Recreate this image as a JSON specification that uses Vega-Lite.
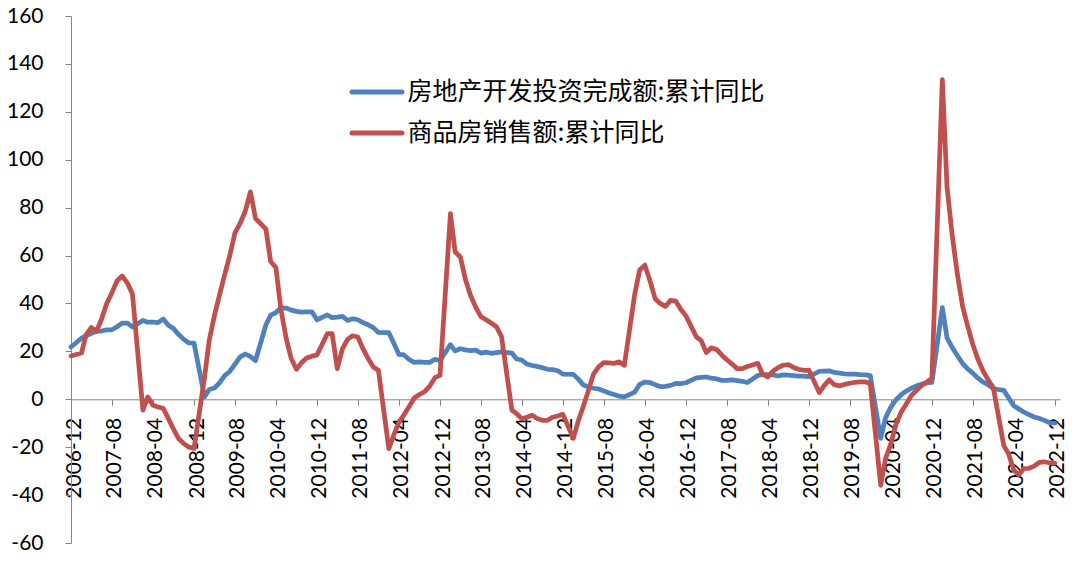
{
  "$schema": "https://vega.github.io/schema/vega-lite/v6.json",
  "width": 989,
  "height": 527,
  "autosize": {"type": "none"},
  "padding": {"left": 71, "top": 16, "right": 20, "bottom": 26},
  "background": "white",
  "data": {"values": [
    {"date":"2006-12","inv":21.8,"sales":18.1},
    {"date":"2007-02","inv":25.5,"sales":19.3},
    {"date":"2007-03","inv":26.5,"sales":27},
    {"date":"2007-04","inv":27.5,"sales":30},
    {"date":"2007-05","inv":28.5,"sales":28.3},
    {"date":"2007-06","inv":28.5,"sales":33.5},
    {"date":"2007-07","inv":29,"sales":40},
    {"date":"2007-08","inv":29,"sales":44.5},
    {"date":"2007-09","inv":30.3,"sales":49.5},
    {"date":"2007-10","inv":31.8,"sales":51.5},
    {"date":"2007-11","inv":31.8,"sales":48.5},
    {"date":"2007-12","inv":30.2,"sales":44},
    {"date":"2008-02","inv":32.9,"sales":-4.5},
    {"date":"2008-03","inv":32.2,"sales":1},
    {"date":"2008-04","inv":32.2,"sales":-2.5},
    {"date":"2008-05","inv":32,"sales":-3.2},
    {"date":"2008-06","inv":33.5,"sales":-3.8},
    {"date":"2008-07","inv":30.9,"sales":-8},
    {"date":"2008-08","inv":29.5,"sales":-12.5},
    {"date":"2008-09","inv":27,"sales":-16.5},
    {"date":"2008-10","inv":25,"sales":-18.5},
    {"date":"2008-11","inv":23.5,"sales":-20},
    {"date":"2008-12","inv":23.4,"sales":-20.5},
    {"date":"2009-02","inv":1,"sales":9},
    {"date":"2009-03","inv":4.1,"sales":24.5},
    {"date":"2009-04","inv":4.7,"sales":35},
    {"date":"2009-05","inv":6.8,"sales":43.5},
    {"date":"2009-06","inv":9.9,"sales":52},
    {"date":"2009-07","inv":11.6,"sales":60},
    {"date":"2009-08","inv":14.7,"sales":69.5},
    {"date":"2009-09","inv":17.7,"sales":73.5},
    {"date":"2009-10","inv":18.9,"sales":78.5},
    {"date":"2009-11","inv":17.8,"sales":86.6},
    {"date":"2009-12","inv":16.1,"sales":75.5},
    {"date":"2010-02","inv":31.1,"sales":71},
    {"date":"2010-03","inv":35.1,"sales":57.5},
    {"date":"2010-04","inv":36.2,"sales":55},
    {"date":"2010-05","inv":38.2,"sales":37.5},
    {"date":"2010-06","inv":38.1,"sales":25.5},
    {"date":"2010-07","inv":37.2,"sales":17},
    {"date":"2010-08","inv":36.7,"sales":12.5},
    {"date":"2010-09","inv":36.4,"sales":15.3},
    {"date":"2010-10","inv":36.5,"sales":17.2},
    {"date":"2010-11","inv":36.5,"sales":18},
    {"date":"2010-12","inv":33.2,"sales":18.5},
    {"date":"2011-02","inv":35.2,"sales":27.4},
    {"date":"2011-03","inv":34.1,"sales":27.4},
    {"date":"2011-04","inv":34.3,"sales":12.8},
    {"date":"2011-05","inv":34.6,"sales":21},
    {"date":"2011-06","inv":32.9,"sales":25},
    {"date":"2011-07","inv":33.6,"sales":26.5},
    {"date":"2011-08","inv":33.2,"sales":26},
    {"date":"2011-09","inv":32.0,"sales":21},
    {"date":"2011-10","inv":31.1,"sales":17},
    {"date":"2011-11","inv":29.9,"sales":13.5},
    {"date":"2011-12","inv":27.9,"sales":12.1},
    {"date":"2012-02","inv":27.8,"sales":-20.6},
    {"date":"2012-03","inv":23.5,"sales":-15},
    {"date":"2012-04","inv":18.7,"sales":-9.5},
    {"date":"2012-05","inv":18.5,"sales":-6.5},
    {"date":"2012-06","inv":16.6,"sales":-3},
    {"date":"2012-07","inv":15.4,"sales":0.5},
    {"date":"2012-08","inv":15.6,"sales":2},
    {"date":"2012-09","inv":15.4,"sales":3.2},
    {"date":"2012-10","inv":15.4,"sales":5.5},
    {"date":"2012-11","inv":16.7,"sales":9},
    {"date":"2012-12","inv":16.2,"sales":10},
    {"date":"2013-02","inv":22.8,"sales":77.5},
    {"date":"2013-03","inv":20.2,"sales":61.5},
    {"date":"2013-04","inv":21.1,"sales":59.4},
    {"date":"2013-05","inv":20.6,"sales":50},
    {"date":"2013-06","inv":20.3,"sales":43.2},
    {"date":"2013-07","inv":20.5,"sales":38.5},
    {"date":"2013-08","inv":19.3,"sales":34.5},
    {"date":"2013-09","inv":19.7,"sales":33.2},
    {"date":"2013-10","inv":19.2,"sales":31.8},
    {"date":"2013-11","inv":19.5,"sales":30.3},
    {"date":"2013-12","inv":19.8,"sales":26.3},
    {"date":"2014-02","inv":19.3,"sales":-4.5},
    {"date":"2014-03","inv":16.8,"sales":-6},
    {"date":"2014-04","inv":16.4,"sales":-8.1},
    {"date":"2014-05","inv":14.7,"sales":-7.5},
    {"date":"2014-06","inv":14.1,"sales":-6.7},
    {"date":"2014-07","inv":13.7,"sales":-8},
    {"date":"2014-08","inv":13.2,"sales":-8.8},
    {"date":"2014-09","inv":12.5,"sales":-8.8},
    {"date":"2014-10","inv":12.4,"sales":-7.5},
    {"date":"2014-11","inv":11.9,"sales":-7},
    {"date":"2014-12","inv":10.5,"sales":-6.3},
    {"date":"2015-02","inv":10.4,"sales":-16.3},
    {"date":"2015-03","inv":8.5,"sales":-9.3},
    {"date":"2015-04","inv":6.0,"sales":-3},
    {"date":"2015-05","inv":5.1,"sales":3.5},
    {"date":"2015-06","inv":4.6,"sales":10.5},
    {"date":"2015-07","inv":4.3,"sales":13.5},
    {"date":"2015-08","inv":3.5,"sales":15.3},
    {"date":"2015-09","inv":2.6,"sales":15.2},
    {"date":"2015-10","inv":2.0,"sales":15},
    {"date":"2015-11","inv":1.3,"sales":15.6},
    {"date":"2015-12","inv":1.0,"sales":14.2},
    {"date":"2016-02","inv":3.0,"sales":44},
    {"date":"2016-03","inv":6.2,"sales":54},
    {"date":"2016-04","inv":7.2,"sales":56},
    {"date":"2016-05","inv":7.0,"sales":49.5},
    {"date":"2016-06","inv":6.1,"sales":42},
    {"date":"2016-07","inv":5.3,"sales":40},
    {"date":"2016-08","inv":5.4,"sales":38.8},
    {"date":"2016-09","inv":5.8,"sales":41.3},
    {"date":"2016-10","inv":6.6,"sales":41},
    {"date":"2016-11","inv":6.5,"sales":37.5},
    {"date":"2016-12","inv":6.9,"sales":34.8},
    {"date":"2017-02","inv":8.9,"sales":26},
    {"date":"2017-03","inv":9.1,"sales":24.6},
    {"date":"2017-04","inv":9.3,"sales":19.5},
    {"date":"2017-05","inv":8.8,"sales":21.5},
    {"date":"2017-06","inv":8.5,"sales":20.8},
    {"date":"2017-07","inv":7.9,"sales":18.5},
    {"date":"2017-08","inv":7.9,"sales":16.5},
    {"date":"2017-09","inv":8.1,"sales":14.7},
    {"date":"2017-10","inv":7.8,"sales":12.8},
    {"date":"2017-11","inv":7.5,"sales":12.8},
    {"date":"2017-12","inv":7.0,"sales":13.7},
    {"date":"2018-02","inv":9.9,"sales":15},
    {"date":"2018-03","inv":10.4,"sales":10.5},
    {"date":"2018-04","inv":10.3,"sales":9.3},
    {"date":"2018-05","inv":10.2,"sales":11.7},
    {"date":"2018-06","inv":9.7,"sales":13.2},
    {"date":"2018-07","inv":10.2,"sales":14.2},
    {"date":"2018-08","inv":10.1,"sales":14.5},
    {"date":"2018-09","inv":9.9,"sales":13.3},
    {"date":"2018-10","inv":9.7,"sales":12.5},
    {"date":"2018-11","inv":9.7,"sales":12.1},
    {"date":"2018-12","inv":9.5,"sales":12.2},
    {"date":"2019-02","inv":11.6,"sales":2.8},
    {"date":"2019-03","inv":11.8,"sales":5.6},
    {"date":"2019-04","inv":11.9,"sales":8.1},
    {"date":"2019-05","inv":11.2,"sales":6.1},
    {"date":"2019-06","inv":10.9,"sales":5.6},
    {"date":"2019-07","inv":10.6,"sales":6.2},
    {"date":"2019-08","inv":10.5,"sales":6.7},
    {"date":"2019-09","inv":10.5,"sales":7.1},
    {"date":"2019-10","inv":10.3,"sales":7.3},
    {"date":"2019-11","inv":10.2,"sales":7.3},
    {"date":"2019-12","inv":9.9,"sales":6.5},
    {"date":"2020-02","inv":-16.3,"sales":-35.9},
    {"date":"2020-03","inv":-7.7,"sales":-24.7},
    {"date":"2020-04","inv":-3.3,"sales":-18.6},
    {"date":"2020-05","inv":-0.3,"sales":-10.6},
    {"date":"2020-06","inv":1.9,"sales":-5.4},
    {"date":"2020-07","inv":3.4,"sales":-2.1},
    {"date":"2020-08","inv":4.6,"sales":1.6},
    {"date":"2020-09","inv":5.6,"sales":3.7},
    {"date":"2020-10","inv":6.3,"sales":5.8},
    {"date":"2020-11","inv":6.8,"sales":7.2},
    {"date":"2020-12","inv":7.0,"sales":8.7},
    {"date":"2021-02","inv":38.3,"sales":133.4},
    {"date":"2021-03","inv":25.6,"sales":88.5},
    {"date":"2021-04","inv":21.6,"sales":68.2},
    {"date":"2021-05","inv":18.3,"sales":52.4},
    {"date":"2021-06","inv":15.0,"sales":38.9},
    {"date":"2021-07","inv":12.7,"sales":30.7},
    {"date":"2021-08","inv":10.9,"sales":22.9},
    {"date":"2021-09","inv":8.8,"sales":16.6},
    {"date":"2021-10","inv":7.2,"sales":11.8},
    {"date":"2021-11","inv":6.0,"sales":8.0},
    {"date":"2021-12","inv":4.4,"sales":4.8},
    {"date":"2022-02","inv":3.7,"sales":-19.3},
    {"date":"2022-03","inv":0.7,"sales":-22.7},
    {"date":"2022-04","inv":-2.7,"sales":-29.5},
    {"date":"2022-05","inv":-4.0,"sales":-31.5},
    {"date":"2022-06","inv":-5.4,"sales":-28.9},
    {"date":"2022-07","inv":-6.4,"sales":-28.8},
    {"date":"2022-08","inv":-7.4,"sales":-27.9},
    {"date":"2022-09","inv":-8.0,"sales":-26.3},
    {"date":"2022-10","inv":-8.8,"sales":-26.1},
    {"date":"2022-11","inv":-9.8,"sales":-26.6},
    {"date":"2022-12","inv":-10.0,"sales":-26.7}
  ]},
  "transform": [{"fold": ["inv", "sales"], "as": ["series", "value"]}],
  "mark": {"type": "line", "strokeWidth": 4.75, "strokeJoin": "round", "strokeCap": "round"},
  "encoding": {
    "x": {
      "field": "date",
      "type": "temporal",
      "scale": {
        "type": "utc",
        "nice": false,
        "domain": [
          {"year": 2006, "month": 12, "date": 1, "utc": true},
          {"year": 2023, "month": 1, "date": 1, "utc": true}
        ]
      },
      "axis": {
        "title": null,
        "grid": false,
        "format": "%Y-%m",
        "values": [
          {"year": 2006, "month": 12, "date": 1, "utc": true},
          {"year": 2007, "month": 8, "date": 1, "utc": true},
          {"year": 2008, "month": 4, "date": 1, "utc": true},
          {"year": 2008, "month": 12, "date": 1, "utc": true},
          {"year": 2009, "month": 8, "date": 1, "utc": true},
          {"year": 2010, "month": 4, "date": 1, "utc": true},
          {"year": 2010, "month": 12, "date": 1, "utc": true},
          {"year": 2011, "month": 8, "date": 1, "utc": true},
          {"year": 2012, "month": 4, "date": 1, "utc": true},
          {"year": 2012, "month": 12, "date": 1, "utc": true},
          {"year": 2013, "month": 8, "date": 1, "utc": true},
          {"year": 2014, "month": 4, "date": 1, "utc": true},
          {"year": 2014, "month": 12, "date": 1, "utc": true},
          {"year": 2015, "month": 8, "date": 1, "utc": true},
          {"year": 2016, "month": 4, "date": 1, "utc": true},
          {"year": 2016, "month": 12, "date": 1, "utc": true},
          {"year": 2017, "month": 8, "date": 1, "utc": true},
          {"year": 2018, "month": 4, "date": 1, "utc": true},
          {"year": 2018, "month": 12, "date": 1, "utc": true},
          {"year": 2019, "month": 8, "date": 1, "utc": true},
          {"year": 2020, "month": 4, "date": 1, "utc": true},
          {"year": 2020, "month": 12, "date": 1, "utc": true},
          {"year": 2021, "month": 8, "date": 1, "utc": true},
          {"year": 2022, "month": 4, "date": 1, "utc": true},
          {"year": 2022, "month": 12, "date": 1, "utc": true}
        ],
        "labelAngle": -90,
        "labelFont": "Lato",
        "labelFontSize": 21,
        "labelColor": "black",
        "labelPadding": 12,
        "labelOffset": 3,
        "labelOverlap": false,
        "labelFlush": false,
        "labelBound": false,
        "tickSize": 6,
        "tickColor": "#868686",
        "domainColor": "#868686",
        "offset": -143.7
      }
    },
    "y": {
      "field": "value",
      "type": "quantitative",
      "scale": {"domain": [-60, 160], "nice": false, "zero": false},
      "axis": {
        "title": null,
        "grid": false,
        "values": [-60, -40, -20, 0, 20, 40, 60, 80, 100, 120, 140, 160],
        "labelExpr": "'' + datum.value",
        "labelFont": "Lato",
        "labelFontSize": 21,
        "labelColor": "black",
        "labelPadding": 22,
        "labelFlush": false,
        "labelOverlap": false,
        "tickSize": 6,
        "tickColor": "#868686",
        "domainColor": "#868686"
      }
    },
    "color": {
      "field": "series",
      "type": "nominal",
      "scale": {"domain": ["inv", "sales"], "range": ["#4F81BD", "#C0504D"]},
      "legend": {
        "orient": "none",
        "legendX": 278.5,
        "legendY": 48.5,
        "title": null,
        "padding": 0,
        "labelExpr": "datum.value == 'inv' ? '房地产开发投资完成额:累计同比' : '商品房销售额:累计同比'",
        "labelFont": "Noto Sans CJK SC",
        "labelFontSize": 25,
        "labelColor": "black",
        "labelLimit": 600,
        "labelOffset": 3,
        "symbolType": "stroke",
        "symbolSize": 2500,
        "symbolStrokeWidth": 5,
        "rowPadding": -24,
        "encode": {"symbols": {"update": {"strokeCap": {"value": "round"}}}}
      }
    }
  },
  "config": {"view": {"stroke": null}}
}
